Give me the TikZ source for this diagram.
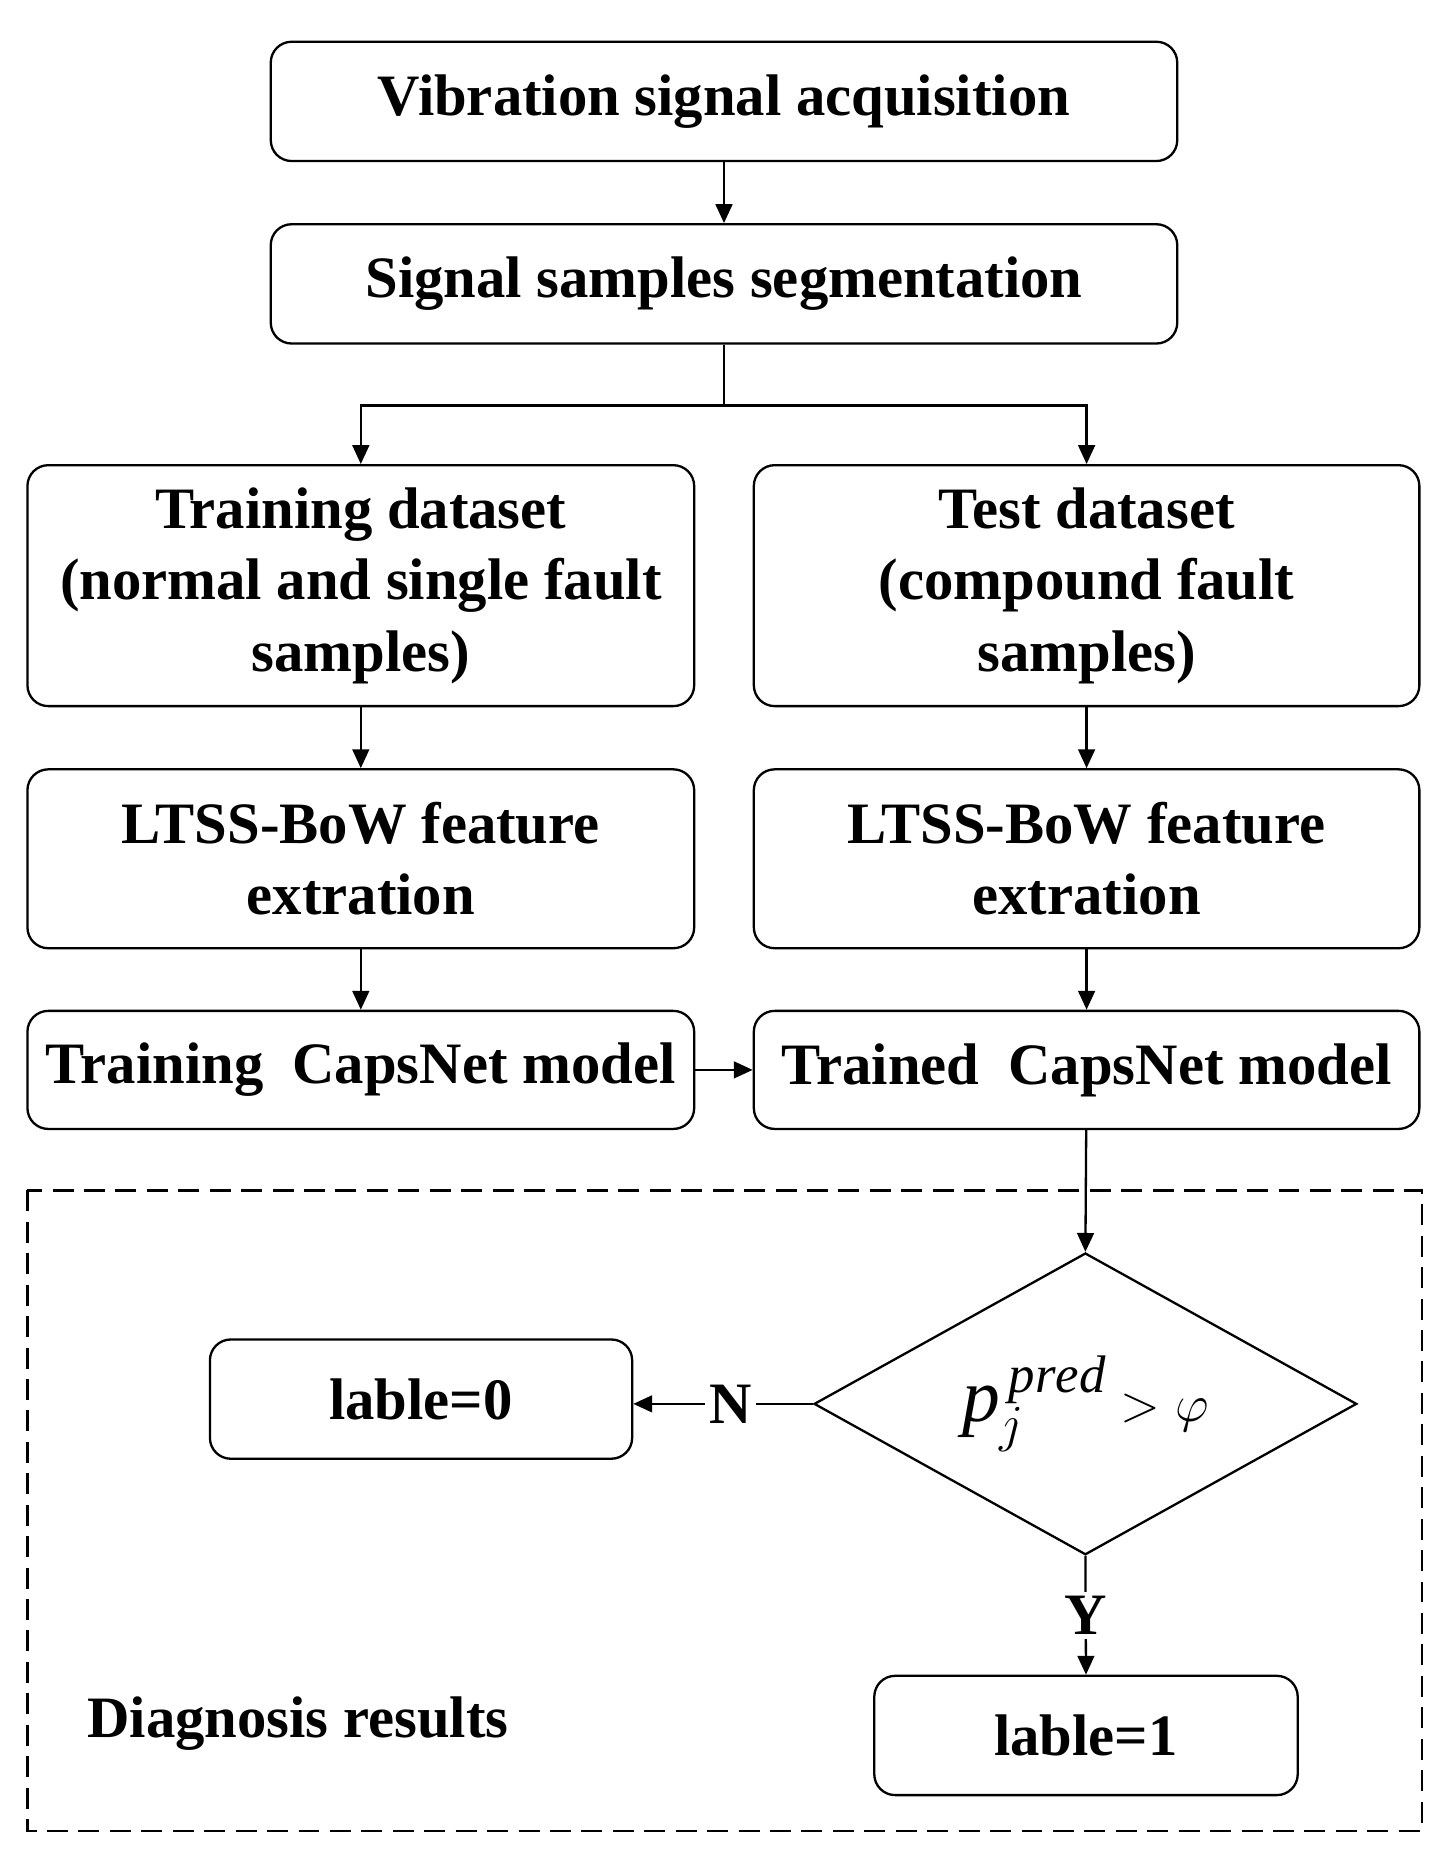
\documentclass[tikz,border=0pt]{standalone}
\usepackage{fontspec}
\setmainfont{Liberation Serif}
\usetikzlibrary{arrows.meta,shapes.geometric}
\begin{document}
\begin{tikzpicture}[x=0.02cm,y=-0.02cm,
  box/.style={draw,line width=1.1pt,rounded corners=0.35cm,align=center,font=\bfseries\fontsize{28}{34}\selectfont,inner sep=0pt},
  ar/.style={line width=1.1pt,-{Triangle[length=9pt,width=8pt]}},
  ln/.style={line width=1.1pt}]
\useasboundingbox (0,0) rectangle (1220,1572);
\node[box,minimum width=760*0.02cm,minimum height=100*0.02cm] (a) at (607,85) {Vibration signal acquisition};
\node[box,minimum width=760*0.02cm,minimum height=100*0.02cm] (b) at (607,238) {Signal samples segmentation};
\node[box,minimum width=559*0.02cm,minimum height=202*0.02cm] (c) at (302.5,491) {Training dataset\\(normal and single fault\\samples)};
\node[box,minimum width=558*0.02cm,minimum height=202*0.02cm] (d) at (911,491) {Test dataset\\(compound fault\\samples)};
\node[box,minimum width=559*0.02cm,minimum height=150*0.02cm] (e) at (302.5,720) {LTSS-BoW feature\\extration};
\node[box,minimum width=558*0.02cm,minimum height=150*0.02cm] (f) at (911,720) {LTSS-BoW feature\\extration};
\node[box,minimum width=559*0.02cm,minimum height=99*0.02cm] (g) at (302.5,897) {Training\ \ CapsNet model};
\node[box,minimum width=558*0.02cm,minimum height=99*0.02cm] (h) at (911,897) {Trained\ \ CapsNet model};
\draw[line width=1.1pt,dash pattern=on 10pt off 5pt] (23,998) rectangle (1192,1535);
\node[draw,line width=1.1pt,diamond,shape aspect=1.8,minimum width=455*0.02cm,minimum height=253*0.02cm,inner sep=0pt,font=\fontsize{36}{40}\selectfont] (k) at (910,1177) {$\mathit{p}_j^{\,\mathit{pred}}>\varphi$};
\node[box,minimum width=354*0.02cm,minimum height=100*0.02cm] (l0) at (353,1173) {lable=0};
\node[box,minimum width=355*0.02cm,minimum height=100*0.02cm] (l1) at (910.5,1455) {lable=1};
\node[font=\bfseries\fontsize{28}{34}\selectfont,anchor=west,inner sep=0pt] (dr) at (73,1445) {Diagnosis results};
\draw[ar] (a) -- (b);
\coordinate (s) at (607,340);
\draw[ln] (b.south) -- (s);
\draw[ar] (s) -| (c.north);
\draw[ar] (s) -| (d.north);
\draw[ar] (c) -- (e);
\draw[ar] (d) -- (f);
\draw[ar] (e) -- (g);
\draw[ar] (f) -- (h);
\draw[ar] (g) -- (h);
\draw[ar] (h) -- (k.north);
\draw[ar] (k.west) -- node[font=\bfseries\fontsize{28}{34}\selectfont,fill=white,inner sep=2pt,pos=0.46]{N} (l0.east |- k.west);
\draw[ar] (k.south) -- node[font=\bfseries\fontsize{28}{34}\selectfont,fill=white,inner sep=2pt,pos=0.5]{Y} (l1.north);
\end{tikzpicture}
\end{document}
